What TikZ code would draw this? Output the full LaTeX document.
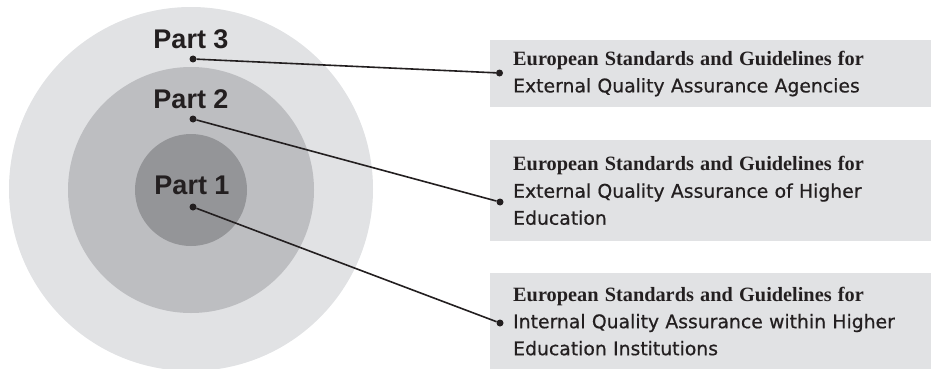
\documentclass[tikz,border=0pt]{standalone}
\usepackage{fontspec}
\setmainfont{Liberation Sans}
\newfontfamily\titlefont{Liberation Serif}
\newfontfamily\bodyfont[FakeBold=0.6]{DejaVu Sans}
\definecolor{ink}{HTML}{231F20}
\definecolor{ringthree}{HTML}{E1E2E4}
\definecolor{ringtwo}{HTML}{BDBEC1}
\definecolor{ringone}{HTML}{949598}
\definecolor{boxgrey}{HTML}{E1E2E4}
\begin{document}
\begin{tikzpicture}[x=1pt,y=-1pt,
    part/.style={font=\fontsize{27}{27}\selectfont\bfseries,text=ink,anchor=base,inner sep=0pt},
    infobox/.style={fill=boxgrey,anchor=north west,text width=395pt,inner xsep=23pt,
      inner ysep=0pt,align=left,text=ink,font=\bodyfont\fontsize{18.8}{27}\selectfont},
    dot/.style={circle,fill=ink,inner sep=0pt,minimum size=7pt},
    link/.style={line width=1.6pt,draw=ink}]
      \useasboundingbox (0,0) rectangle (931,369);
      % rings
      \fill[ringthree] (191,189) circle[radius=182];
      \fill[ringtwo] (191,190) circle[radius=123];
      \fill[ringone] (191,190) circle[radius=56];
      \draw
        (191,48.7) node[part] (p3){Part 3}
        (191,108) node[part] (p2){Part 2}
        (192,194) node[part] (p1){Part 1};
      % boxes
      \node[infobox,minimum height=67pt] (b3) at (490,40)
        {{\titlefont\bfseries\fontsize{20.3}{27}\selectfont European Standards and Guidelines for}\\External Quality Assurance Agencies};
      \node[infobox,minimum height=101pt] (b2) at (490,140)
        {{\titlefont\bfseries\fontsize{20.3}{27}\selectfont European Standards and Guidelines for}\\External Quality Assurance of Higher\\Education};
      \node[infobox,minimum height=96pt] (b1) at (490,273)
        {{\titlefont\bfseries\fontsize{20.3}{27}\selectfont European Standards and Guidelines for}\\Internal Quality Assurance within Higher\\Education Institutions};
      \draw
        (193,59) node[dot] (s3){}
        (193,119) node[dot] (s2){}
        (193,207) node[dot] (s1){}
        (499.5,73) node[dot] (t3){}
        (500,202) node[dot] (t2){}
        (500,323) node[dot] (t1){};
      \begin{scope}[link]
        \draw (s3) to (t3);
        \draw (s2) to (t2);
        \draw (s1) to (t1);
      \end{scope}
    \end{tikzpicture}
\end{document}
